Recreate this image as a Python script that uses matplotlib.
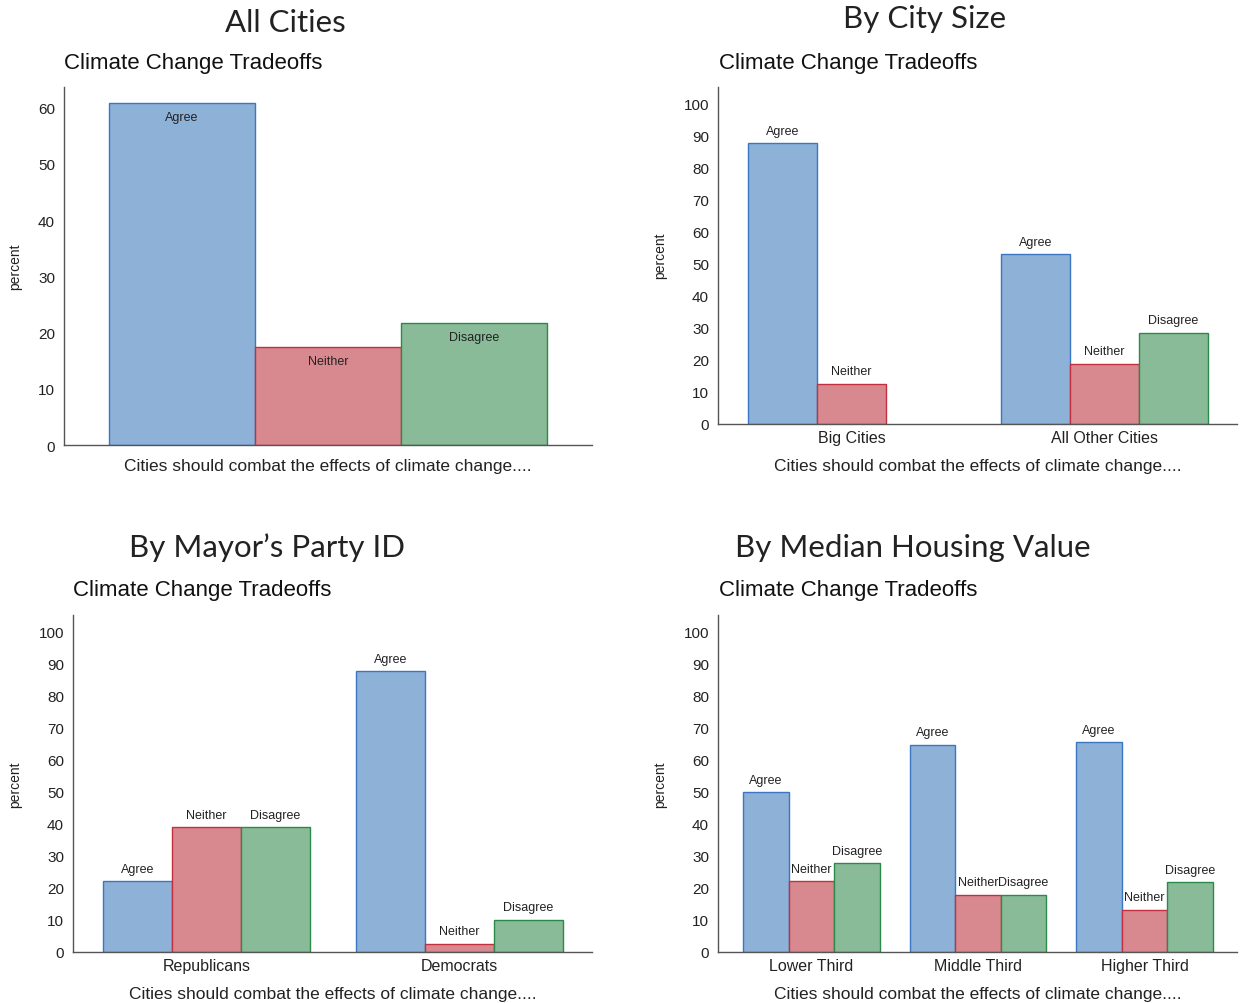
import numpy as np
import matplotlib
matplotlib.use("Agg")
import matplotlib.pyplot as plt

plt.rcParams["font.family"] = ["Liberation Sans", "DejaVu Sans"]

RESPONSES = ["Agree", "Neither", "Disagree"]

# All Cities
all_groups = []
all_vals = [[60.9], [17.4], [21.7]]

# By City Size
size_groups = ["Big Cities", "All Other Cities"]
size_vals = [[87.5, 52.9], [12.5, 18.7], [0.0, 28.4]]

# By Mayor's Party ID
party_groups = ["Republicans", "Democrats"]
party_vals = [[22.1, 87.5], [38.9, 2.5], [38.9, 10.0]]

# By Median Housing Value
house_groups = ["Lower Third", "Middle Third", "Higher Third"]
house_vals = [[49.8, 64.5, 65.4], [22.1, 17.8, 13.1], [27.7, 17.8, 21.8]]

FILL = ["#8eb1d7", "#d8898f", "#8abb98"]
EDGE = ["#3b76c2", "#c2303f", "#2b8a48"]
INK = "#222222"
AXIS = "#555555"

W, H = 1240, 1004


def px_axes(fig, left, top, right, bottom):
    return fig.add_axes([left / W, 1 - bottom / H, (right - left) / W, (bottom - top) / H])


def draw(ax, groups, vals, gap, margin_l, margin_r, ymax, yticks, inside=False):
    n = len(RESPONSES)
    ngroups = len(vals[0])
    centers = np.arange(ngroups) * (n + gap)
    for i, resp in enumerate(RESPONSES):
        xs = centers + (i - (n - 1) / 2)
        for x, v in zip(xs, vals[i]):
            if v <= 0:
                continue
            ax.bar(x, v, width=1.0, color=FILL[i], edgecolor=EDGE[i], linewidth=1.0, zorder=2)
            dy = -10 if inside else 9
            ax.annotate(resp, (x, v), xytext=(0, dy), textcoords="offset points",
                        ha="center", va="center", fontsize=9, color=INK)
    ax.set_xlim(centers[0] - n / 2 - margin_l, centers[-1] + n / 2 + margin_r)
    ax.set_ylim(0, ymax)
    ax.set_yticks(yticks)
    if groups:
        ax.set_xticks(centers)
        ax.set_xticklabels(groups, fontsize=11.5, color=INK)
    else:
        ax.set_xticks([])
    ax.tick_params(axis="x", length=0, pad=4.5)
    ax.tick_params(axis="y", length=0, pad=6.5, labelsize=11, labelcolor=INK)
    for s in ["top", "right"]:
        ax.spines[s].set_visible(False)
    for s in ["left", "bottom"]:
        ax.spines[s].set_color(AXIS)
        ax.spines[s].set_linewidth(1.0)
    ax.set_xlabel("Cities should combat the effects of climate change....",
                  fontsize=12.5, color=INK, labelpad=9 if groups else 9.5)


fig = plt.figure(figsize=(W / 100, H / 100), dpi=100)

ax1 = px_axes(fig, 64, 88, 592, 446)
draw(ax1, all_groups, all_vals, 0, 0.308, 0.308, 63.7, range(0, 61, 10), inside=True)

ax2 = px_axes(fig, 718, 88, 1237, 425)
draw(ax2, size_groups, size_vals, 0.667, 0.435, 0.42, 105, range(0, 101, 10))

ax3 = px_axes(fig, 73, 616, 592, 953)
draw(ax3, party_groups, party_vals, 0.667, 0.435, 0.42, 105, range(0, 101, 10))

ax4 = px_axes(fig, 718, 616, 1237, 953)
draw(ax4, house_groups, house_vals, 0.657, 0.547, 0.525, 105, range(0, 101, 10))

titles = [
    ("All Cities", 285, 32),
    ("By City Size", 925, 28),
    ("By Mayor\u2019s Party ID", 267, 557),
    ("By Median Housing Value", 913, 557),
]
for text, x, y in titles:
    fig.text(x / W, 1 - y / H, text, ha="center", va="baseline",
             fontsize=22.5, color=INK, family=["Lato", "DejaVu Sans"])

subtitles = [(64, 69), (719, 69), (73, 596), (719, 596)]
for x, y in subtitles:
    fig.text(x / W, 1 - y / H, "Climate Change Tradeoffs", ha="left", va="baseline",
             fontsize=16, color="#111111")

ylabels = [(15, 267), (660, 256), (15, 785), (660, 785)]
for x, y in ylabels:
    fig.text(x / W, 1 - y / H, "percent", rotation=90, ha="center", va="center",
             fontsize=10, color=INK)

fig.savefig("out.png", dpi=100)
